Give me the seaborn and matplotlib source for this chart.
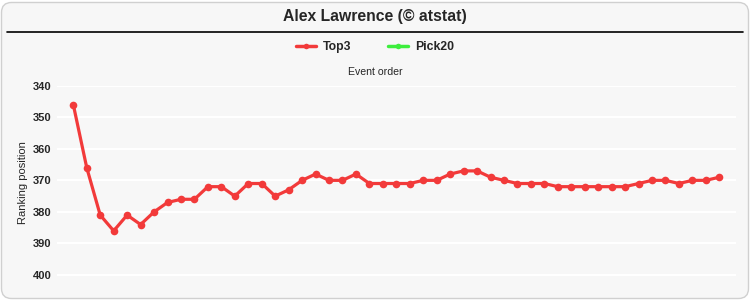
import matplotlib
matplotlib.use("Agg")
import matplotlib.pyplot as plt
from matplotlib.patches import FancyBboxPatch
from matplotlib.lines import Line2D
from matplotlib.transforms import IdentityTransform
import seaborn as sns
import pandas as pd

title = "Alex Lawrence (© atstat)"
series_names = ["Top3", "Pick20"]
series_colors = ["#f23a3a", "#3dee3d"]
event_order = list(range(1, 50))
top3_rank = [346, 366, 381, 386, 381, 384, 380, 377, 376, 376,
             372, 372, 375, 371, 371, 375, 373, 370, 368, 370,
             370, 368, 371, 371, 371, 371, 370, 370, 368, 367,
             367, 369, 370, 371, 371, 371, 372, 372, 372, 372,
             372, 372, 371, 370, 370, 371, 370, 370, 369]
y_ticks = [340, 350, 360, 370, 380, 390, 400]

sns.set_theme(style="white")
plt.rcParams['font.family'] = ['Liberation Sans', 'DejaVu Sans']

fig = plt.figure(figsize=(7.5, 3), dpi=100)
fig.patch.set_facecolor("white")
bg = FancyBboxPatch((1.5, 1.5), 747, 296, boxstyle="round,pad=0,rounding_size=10",
                    transform=IdentityTransform(), facecolor="#f7f7f7",
                    edgecolor="#d0d0d0", linewidth=1.0, zorder=0)
fig.add_artist(bg)

ax = fig.add_axes([57/750, 1-290.8/300, 679/750, (290.8-85.7)/300])
ax.set_facecolor("none")

df = pd.DataFrame({"event": event_order, "rank": top3_rank})
sns.lineplot(data=df, x="event", y="rank", ax=ax, color=series_colors[0],
             linewidth=2.3, marker="o", markersize=5.5, markeredgewidth=0)

ax.set_xlim(-0.211, 50.24)
ax.set_ylim(405, 340)
ax.set_yticks(y_ticks)
ax.set_yticklabels([str(t) for t in y_ticks], fontweight="bold", fontsize=8)
ax.set_xticks([])
ax.tick_params(axis="y", length=0, pad=4)
ax.grid(axis="y", color="white", linewidth=1.5)
ax.set_axisbelow(True)
for s in ax.spines.values():
    s.set_visible(False)
ax.set_xlabel("")
ax.set_ylabel("Ranking position", fontsize=8)
ax.yaxis.set_label_coords(-0.042, 0.53)

fig.text(0.5, 1-17/300, title, ha="center", va="center", fontsize=11.3, fontweight="bold")
fig.add_artist(Line2D([7/750, 743/750], [1-32/300, 1-32/300], color="black", linewidth=1.2))
fig.text(0.5, 1-72/300, "Event order", ha="center", va="center", fontsize=7.6)

handles = [Line2D([], [], color=c, linewidth=2.5, marker="o", markersize=4, markeredgewidth=0)
           for c in series_colors]
fig.legend(handles, series_names, loc="center", bbox_to_anchor=(0.5, 1-47/300), ncol=2,
           frameon=False, prop={"weight": "bold", "size": 8.8}, handlelength=1.6,
           columnspacing=3.0, handletextpad=0.6)

fig.savefig("out.png", dpi=100)
